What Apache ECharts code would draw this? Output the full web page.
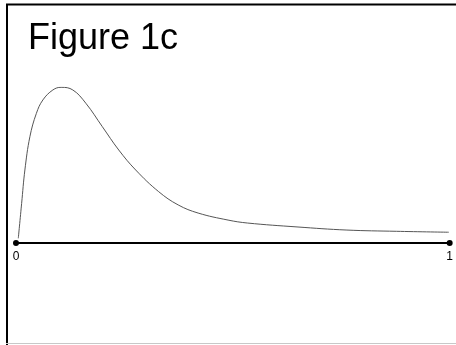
<!DOCTYPE html>
<html>
<head>
<meta charset="utf-8">
<script src="https://cdn.jsdelivr.net/npm/echarts@6/dist/echarts.min.js"></script>
<style>html,body{margin:0;padding:0;background:#fff;}#c{width:456px;height:345px;}</style>
</head>
<body>
<div id="c"></div>
<script>
var titleText = 'Figure 1c';
var xValues = [0.0053, 0.013, 0.0205, 0.032, 0.047, 0.062, 0.085, 0.104, 0.131, 0.161, 0.199, 0.237, 0.276, 0.329, 0.374, 0.420, 0.489, 0.534, 0.648, 0.763, 0.877, 0.998];
var yValues = [0.030, 0.254, 0.468, 0.681, 0.831, 0.917, 0.981, 0.998, 0.981, 0.896, 0.746, 0.596, 0.468, 0.329, 0.244, 0.192, 0.147, 0.128, 0.103, 0.083, 0.075, 0.069];
var tickLabels = ['0', '1'];

var data = xValues.map(function (x, i) { return [x, yValues[i]]; });
var chart = echarts.init(document.getElementById('c'), null, {renderer: 'canvas'});
chart.setOption({
  animation: false,
  backgroundColor: '#fff',
  title: {
    text: titleText, left: 23, top: 16,
    textStyle: {fontFamily: 'Liberation Sans, Arial, sans-serif', fontSize: 36, fontWeight: 'normal', color: '#000'}
  },
  grid: {left: 16, right: 2, top: 87, bottom: 102, containLabel: false},
  xAxis: {
    type: 'value', min: 0, max: 1, interval: 1,
    axisLine: {show: true, lineStyle: {color: '#000', width: 2}, symbol: ['circle', 'circle'], symbolSize: [6, 6]},
    axisTick: {show: false},
    splitLine: {show: false},
    axisLabel: {
      show: true, margin: 8, color: '#000', fontSize: 12, fontFamily: 'Liberation Sans, Arial, sans-serif',
      formatter: function (v) { return v === 0 ? tickLabels[0] : (v === 1 ? tickLabels[1] : ''); }
    }
  },
  yAxis: {
    type: 'value', min: 0, max: 1,
    show: false
  },
  series: [{
    type: 'line', data: data, smooth: 0.4, showSymbol: false,
    lineStyle: {color: '#555', width: 1}
  }],
  graphic: [
    {type: 'line', shape: {x1: 6, y1: 4.5, x2: 456, y2: 4.5}, style: {stroke: '#000', lineWidth: 2}},
    {type: 'line', shape: {x1: 7, y1: 4, x2: 7, y2: 345}, style: {stroke: '#000', lineWidth: 2}},
    {type: 'line', shape: {x1: 6, y1: 343.5, x2: 456, y2: 343.5}, style: {stroke: '#c8c8c8', lineWidth: 1}}
  ]
});
</script>
</body>
</html>
